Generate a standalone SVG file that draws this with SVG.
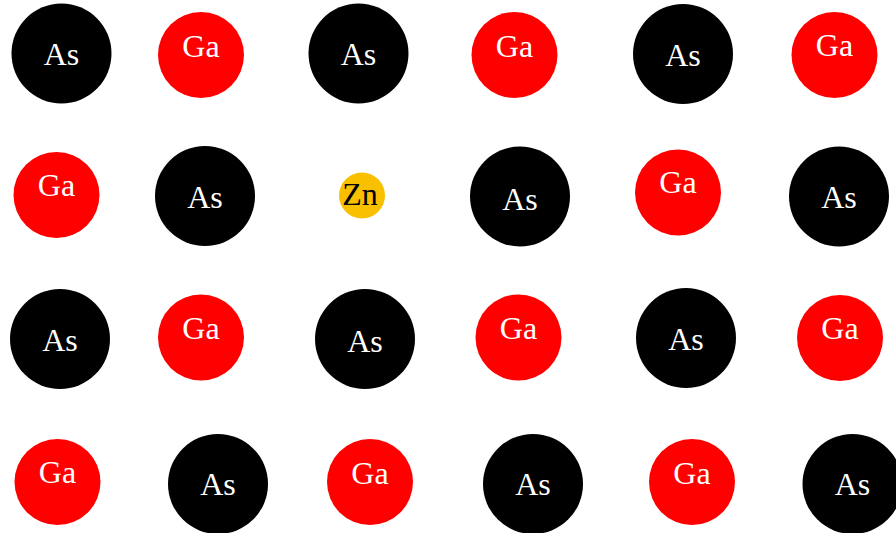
<svg xmlns="http://www.w3.org/2000/svg" width="896" height="533" viewBox="0 0 896 533">
  <style>
    .as circle { fill: #000000; }
    .ga circle { fill: #ff0000; }
    .zn circle { fill: #f9c000; }
    text { font-family: 'Liberation Serif', 'Times New Roman', Times, 'DejaVu Serif', serif; font-size: 32px; text-anchor: middle; }
    .as text, .ga text { fill: #ffffff; }
    .zn text { fill: #000000; }
  </style>
  <rect width="896" height="533" fill="#ffffff"/>

  <!-- row 1 -->
  <g id="as-1-1" class="as"><circle cx="61.5" cy="53.5" r="50"/><text x="61.5" y="65">As</text></g>
  <g id="ga-1-2" class="ga"><circle cx="201" cy="55" r="43"/><text x="201" y="57">Ga</text></g>
  <g id="as-1-3" class="as"><circle cx="358.5" cy="53.5" r="50"/><text x="358.5" y="65">As</text></g>
  <g id="ga-1-4" class="ga"><circle cx="514.5" cy="55" r="43"/><text x="514.5" y="57">Ga</text></g>
  <g id="as-1-5" class="as"><circle cx="683" cy="54" r="50"/><text x="683" y="66">As</text></g>
  <g id="ga-1-6" class="ga"><circle cx="834.5" cy="55" r="43"/><text x="834.5" y="56">Ga</text></g>

  <!-- row 2 -->
  <g id="ga-2-1" class="ga"><circle cx="56.5" cy="195" r="43"/><text x="56.5" y="196">Ga</text></g>
  <g id="as-2-2" class="as"><circle cx="205" cy="196" r="50"/><text x="205" y="208">As</text></g>
  <g id="zn-2-3" class="zn"><circle cx="362" cy="195.5" r="23"/><text x="360" y="205">Zn</text></g>
  <g id="as-2-4" class="as"><circle cx="520" cy="196.5" r="50"/><text x="520" y="210">As</text></g>
  <g id="ga-2-5" class="ga"><circle cx="678" cy="192.5" r="43"/><text x="678" y="193">Ga</text></g>
  <g id="as-2-6" class="as"><circle cx="839" cy="196.5" r="50"/><text x="839" y="208">As</text></g>

  <!-- row 3 -->
  <g id="as-3-1" class="as"><circle cx="60" cy="339" r="50"/><text x="60" y="351">As</text></g>
  <g id="ga-3-2" class="ga"><circle cx="201" cy="337.5" r="43"/><text x="201" y="339">Ga</text></g>
  <g id="as-3-3" class="as"><circle cx="365" cy="339" r="50"/><text x="365" y="352">As</text></g>
  <g id="ga-3-4" class="ga"><circle cx="518.5" cy="337.5" r="43"/><text x="518.5" y="339">Ga</text></g>
  <g id="as-3-5" class="as"><circle cx="686" cy="338" r="50"/><text x="686" y="350">As</text></g>
  <g id="ga-3-6" class="ga"><circle cx="840" cy="338" r="43"/><text x="840" y="339">Ga</text></g>

  <!-- row 4 -->
  <g id="ga-4-1" class="ga"><circle cx="57.5" cy="482" r="43"/><text x="57.5" y="483">Ga</text></g>
  <g id="as-4-2" class="as"><circle cx="218" cy="484" r="50"/><text x="218" y="495">As</text></g>
  <g id="ga-4-3" class="ga"><circle cx="370" cy="482" r="43"/><text x="370" y="484">Ga</text></g>
  <g id="as-4-4" class="as"><circle cx="533" cy="484" r="50"/><text x="533" y="495">As</text></g>
  <g id="ga-4-5" class="ga"><circle cx="692" cy="482" r="43"/><text x="692" y="484">Ga</text></g>
  <g id="as-4-6" class="as"><circle cx="852.5" cy="484" r="50"/><text x="852.5" y="495">As</text></g>

  <!-- no connectors in this lattice view -->
  <g id="connectors"/>
</svg>
